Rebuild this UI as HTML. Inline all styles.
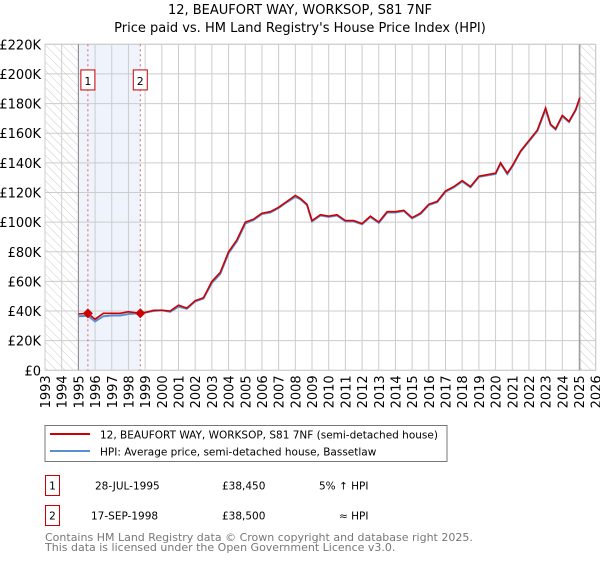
<!DOCTYPE html>
<html><head><meta charset="utf-8"><style>
body{margin:0;width:600px;height:560px;background:#fff;font-family:"DejaVu Sans","Liberation Sans",sans-serif;overflow:hidden}
svg text{font-family:"DejaVu Sans","Liberation Sans",sans-serif}
</style></head><body>
<svg id="c" width="600" height="560">
<defs><pattern id="hatch" width="6" height="6" patternUnits="userSpaceOnUse" patternTransform="rotate(-45)"><line x1="0" y1="0" x2="0" y2="6" stroke="#ccc" stroke-width="1"/></pattern></defs>
<text x="300" y="14" text-anchor="middle" font-size="13">12, BEAUFORT WAY, WORKSOP, S81 7NF</text>
<text x="300" y="32" text-anchor="middle" font-size="13">Price paid vs. HM Land Registry's House Price Index (HPI)</text>
<g id="plot"></g>
<g>
<rect x="45" y="425.5" width="402" height="36" fill="#fff" stroke="#777"/>
<line x1="50" y1="434" x2="90" y2="434" stroke="#cc0000" stroke-width="2"/>
<text x="100" y="438.5" font-size="10.5">12, BEAUFORT WAY, WORKSOP, S81 7NF (semi-detached house)</text>
<line x1="50" y1="451" x2="90" y2="451" stroke="#5b8fd4" stroke-width="2"/>
<text x="100" y="455.5" font-size="10.5">HPI: Average price, semi-detached house, Bassetlaw</text>
</g>
<g font-size="10.5">
<rect x="45.5" y="475.5" width="14" height="20" fill="#fff" stroke="#cc0000"/><text x="52.5" y="489.5" text-anchor="middle">1</text>
<text x="95" y="489.5">28-JUL-1995</text><text x="222" y="489.5">£38,450</text><text x="319" y="489.5">5% ↑ HPI</text>
<rect x="45.5" y="505.5" width="14" height="20" fill="#fff" stroke="#cc0000"/><text x="52.5" y="519.5" text-anchor="middle">2</text>
<text x="91" y="519.5">17-SEP-1998</text><text x="222" y="519.5">£38,500</text><text x="339" y="519.5">≈ HPI</text>
</g>
<text x="45" y="541" font-size="11" fill="#777">Contains HM Land Registry data © Crown copyright and database right 2025.</text>
<text x="45" y="551" font-size="11" fill="#777">This data is licensed under the Open Government Licence v3.0.</text>
</svg>
<script>
const years=[1995,1995.57,1996,1996.5,1997,1997.5,1998,1998.71,1999,1999.5,2000,2000.5,2001,2001.5,2002,2002.5,2003,2003.5,2004,2004.5,2005,2005.5,2006,2006.5,2007,2007.5,2008,2008.3,2008.7,2009,2009.5,2010,2010.5,2011,2011.5,2012,2012.5,2013,2013.5,2014,2014.5,2015,2015.5,2016,2016.5,2017,2017.5,2018,2018.5,2019,2019.5,2020,2020.3,2020.7,2021,2021.5,2022,2022.5,2023,2023.3,2023.6,2024,2024.4,2024.8,2025.05];
const priceVals=[38000,38450,34500,38500,38500,38500,39500,38500,39000,40500,40500,40000,44000,42000,47000,49000,60000,66000,80000,88000,100000,102000,106000,107000,110000,114000,118000,116000,112000,101000,105000,104000,105000,101000,101000,99000,104000,100000,107000,107000,108000,103000,106000,112000,114000,121000,124000,128000,124000,131000,132000,133000,140000,133000,138000,148000,155000,162000,177000,166000,163000,172000,168000,176000,184000];
const hpiVals=[36500,36800,33000,36500,37000,37000,38000,38500,39000,40000,40500,39500,43000,41500,46500,48500,59000,65000,79000,87000,99000,101500,105500,106500,109500,113500,117000,115500,111500,100500,104500,103500,104500,100500,100500,98500,103500,99500,106500,106500,107500,102500,105500,111500,113500,120500,123500,127500,123500,130500,131500,132500,139500,132500,137500,147500,154500,161500,176000,165500,162500,171500,167500,175500,183500];
const yTicks=[0,20000,40000,60000,80000,100000,120000,140000,160000,180000,200000,220000];
const yLabels=["£0","£20K","£40K","£60K","£80K","£100K","£120K","£140K","£160K","£180K","£200K","£220K"];
const xTicks=[1993,1994,1995,1996,1997,1998,1999,2000,2001,2002,2003,2004,2005,2006,2007,2008,2009,2010,2011,2012,2013,2014,2015,2016,2017,2018,2019,2020,2021,2022,2023,2024,2025,2026];
const saleYears=[1995.57,1998.71];
const saleVals=[38450,38500];
const saleLabels=["1","2"];
const X0=45,X1=595.7,Y0=370.3,Y1=44.3;
const x=v=>X0+(v-1993)/(2026-1993)*(X1-X0);
const y=v=>Y0-v/220000*(Y0-Y1);
const NS="http://www.w3.org/2000/svg";
const g=document.getElementById('plot');
function mk(t,a,p){const e=document.createElementNS(NS,t);for(const k in a)e.setAttribute(k,a[k]);(p||g).appendChild(e);return e;}
let e;
e=mk('rect',{x:x(1995),y:Y1,width:x(1998.71)-x(1995),height:Y0-Y1,fill:'#eef3fc'});


e=mk('rect',{x:X0,y:Y1,width:x(1995)-X0,height:Y0-Y1,fill:'url(#hatch)'});


e=mk('rect',{x:x(2025.05),y:Y1,width:X1-x(2025.05),height:Y0-Y1,fill:'url(#hatch)'});


yTicks.forEach((v,i)=>{
 e=mk('line',{x1:X0,x2:X1,y1:y(v),y2:y(v),stroke:'#ccc'});
 
 
 e=mk('text',{x:X0-4,y:y(v)+5,'text-anchor':'end','font-size':13});
 
 
 e.textContent=yLabels[i];
});
xTicks.forEach(v=>{
 e=mk('line',{x1:x(v),x2:x(v),y1:Y1,y2:Y0,stroke:'#ccc'});
 
 
 e=mk('text',{x:0,y:0,'text-anchor':'end','font-size':13,transform:`translate(${x(v)+5},${Y0+5}) rotate(-90)`});
 
 
 e.textContent=v;
});
e=mk('rect',{x:X0,y:Y1,width:X1-X0,height:Y0-Y1,fill:'none',stroke:'#ccc'});


[1995,2025.05].forEach(v=>{e=mk('line',{x1:x(v),x2:x(v),y1:Y1,y2:Y0,stroke:'#888'});
 
 });
saleYears.forEach((v,i)=>{
 e=mk('line',{x1:x(v),x2:x(v),y1:Y1,y2:Y0,stroke:'#e06060','stroke-dasharray':'2,3'});
 
 
 e=mk('rect',{x:x(v)-7,y:y(200000)-4,width:14,height:20,fill:'#fff',stroke:'#cc0000'});
 
 
 e=mk('text',{x:x(v),y:y(200000)+11,'text-anchor':'middle','font-size':11});
 
 
 e.textContent=saleLabels[i];
});
const pts=a=>years.map((yr,i)=>x(yr).toFixed(1)+','+y(a[i]).toFixed(1)).join(' ');
e=mk('polyline',{points:pts(hpiVals),fill:'none',stroke:'#5b8fd4','stroke-width':2});


e=mk('polyline',{points:pts(priceVals),fill:'none',stroke:'#cc0000','stroke-width':1.6});


saleYears.forEach((v,i)=>{
 const cx=x(v),cy=y(saleVals[i]);
 e=mk('polygon',{points:`${cx},${cy-5} ${cx+5},${cy} ${cx},${cy+5} ${cx-5},${cy}`,fill:'#cc0000'});
 
 
});
</script>
</body></html>
